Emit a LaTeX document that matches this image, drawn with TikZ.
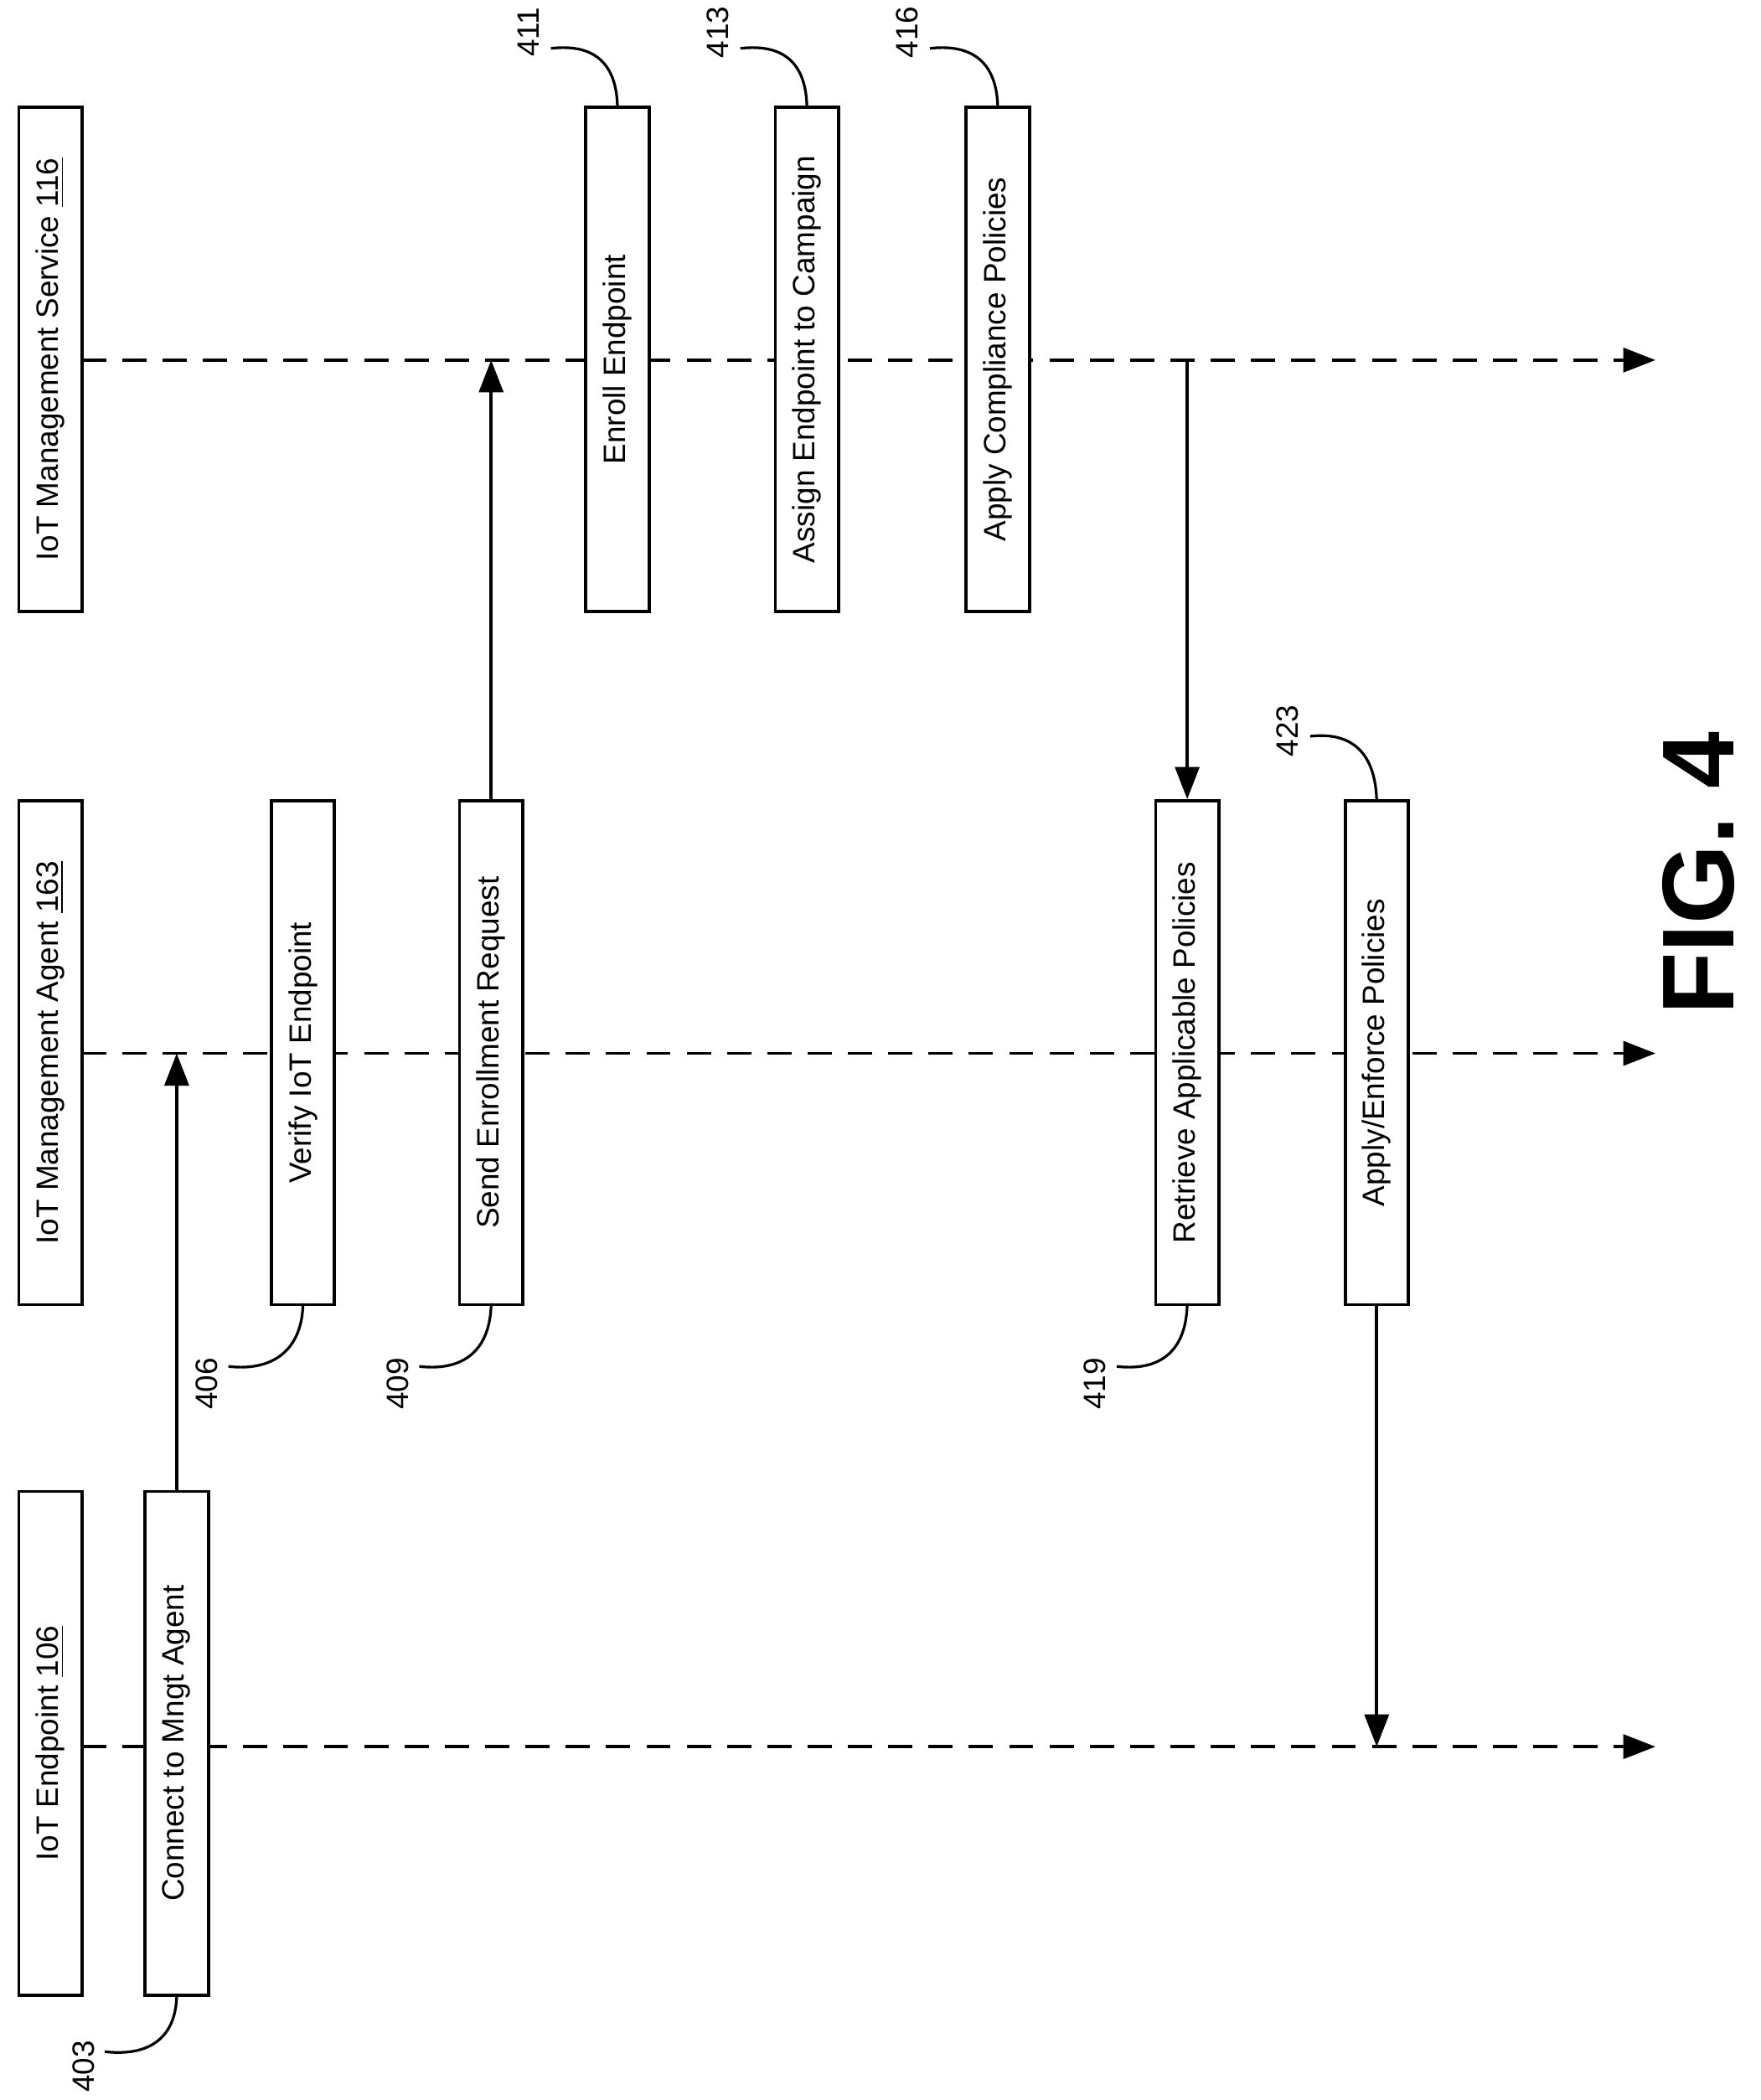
\documentclass[tikz,border=0pt]{standalone}
\usepackage{fontspec}
\setmainfont{Liberation Sans}
\usetikzlibrary{arrows.meta}
\begin{document}
\begin{tikzpicture}[x=0.5pt,y=-0.5pt,
  box/.style={draw,fill=white,line width=1.2pt,rotate=90,minimum width=187.5pt,minimum height=23.5pt,inner sep=0pt,font=\fontsize{11.5}{13}\selectfont},
  life/.style={line width=1.2pt,dash pattern=on 9pt off 6pt,-{Triangle[length=12pt,width=9pt]}},
  msg/.style={line width=1.2pt,-{Triangle[length=12pt,width=9pt]}},
  lead/.style={line width=1pt},
  num/.style={rotate=90,font=\fontsize{11.5}{13}\selectfont,inner sep=1pt}]
\useasboundingbox (0,0) rectangle (1310,1563);
% lifelines (drawn first, boxes cover them)
\coordinate (svcS) at (61,268);
\coordinate (agtS) at (61,784);
\coordinate (epS) at (61,1300);
\coordinate (svcE) at (1232,268);
\coordinate (agtE) at (1232,784);
\coordinate (epE) at (1232,1300);
\draw[life] (svcS) -- (svcE);
\draw[life] (agtS) -- (agtE);
\draw[life] (epS) -- (epE);
% lifeline headers
\node[box] (svc) at (37.5,267.5) {IoT Management Service \underline{116}};
\node[box] (agt) at (37.5,783.5) {IoT Management Agent \underline{163}};
\node[box] (ep) at (37.5,1297.5) {IoT Endpoint \underline{106}};
% step boxes
\node[box] (enr) at (459.5,267.5) {Enroll Endpoint};
\node[box] (asg) at (600.5,267.5) {Assign Endpoint to Campaign};
\node[box] (cmp) at (742.5,267.5) {Apply Compliance Policies};
\node[box] (ver) at (225.5,783.5) {Verify IoT Endpoint};
\node[box] (snd) at (365.5,783.5) {Send Enrollment Request};
\node[box] (ret) at (883.5,783.5) {Retrieve Applicable Policies};
\node[box] (enf) at (1024.5,783.5) {Apply/Enforce Policies};
\node[box] (con) at (131.5,1297.5) {Connect to Mngt Agent};
% messages
\coordinate (m1) at (131.5,784);
\coordinate (m2) at (365.5,268);
\coordinate (m3) at (883.5,268);
\coordinate (m4) at (1024.5,1300);
\draw[msg] (con.east) -- (m1);
\draw[msg] (snd.east) -- (m2);
\draw[msg] (m3) -- (ret.east);
\draw[msg] (enf.west) -- (m4);
% reference numerals
\node[num] (n411) at (393,24) {411};
\node[num] (n413) at (534,24) {413};
\node[num] (n416) at (675,24) {416};
\node[num] (n423) at (958,544) {423};
\node[num] (n406) at (154,1030) {406};
\node[num] (n409) at (296,1030) {409};
\node[num] (n419) at (815,1030) {419};
\node[num] (n403) at (62,1538) {403};
\coordinate (l411) at (410,36);
\coordinate (l413) at (551,36);
\coordinate (l416) at (692,36);
\coordinate (l423) at (975,548);
\coordinate (l406) at (170,1017);
\coordinate (l409) at (312,1017);
\coordinate (l419) at (831,1017);
\coordinate (l403) at (78,1527);
\draw[lead] (l411) .. controls (445,32) and (459,50) .. (459.5,80);
\draw[lead] (l413) .. controls (586,32) and (600,50) .. (600.5,80);
\draw[lead] (l416) .. controls (727,32) and (742,50) .. (742.5,80);
\draw[lead] (l423) .. controls (1010,544) and (1024,565) .. (1024.5,597);
\draw[lead] (l406) .. controls (205,1021) and (225,1003) .. (225.5,970);
\draw[lead] (l409) .. controls (347,1021) and (365,1003) .. (365.5,970);
\draw[lead] (l419) .. controls (866,1021) and (883,1003) .. (883.5,970);
\draw[lead] (l403) .. controls (113,1531) and (131,1515) .. (131.5,1485);
% figure label
\node[rotate=90,font=\bfseries\fontsize{38}{44}\selectfont] (fig) at (1264,650) {FIG. 4};
\end{tikzpicture}
\end{document}
